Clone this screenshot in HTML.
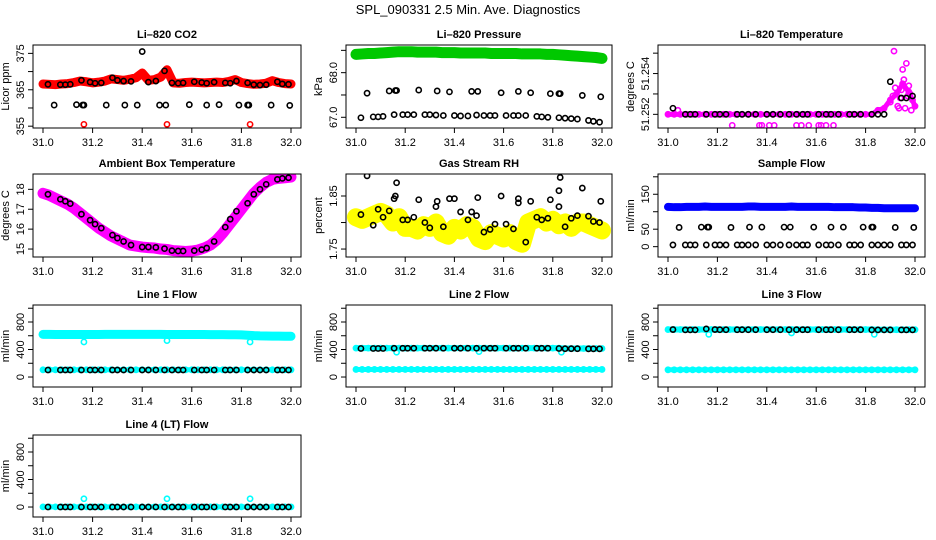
<!DOCTYPE html>
<html><head><meta charset="utf-8"><style>
body{margin:0;background:#fff}
svg{display:block}
text{font-family:"Liberation Sans",Arial,sans-serif;fill:#000}
</style></head><body>
<svg id="c" width="936" height="540" viewBox="0 0 936 540">
<text x="468" y="14" text-anchor="middle" font-size="13">SPL_090331  2.5 Min. Ave. Diagnostics</text>
</svg>
<script>
// shared time arrays
const t41=[31.000,31.025,31.050,31.075,31.100,31.125,31.150,31.175,31.200,31.225,31.250,31.275,31.300,31.325,31.350,31.375,31.400,31.425,31.450,31.475,31.500,31.525,31.550,31.575,31.600,31.625,31.650,31.675,31.700,31.725,31.750,31.775,31.800,31.825,31.850,31.875,31.900,31.925,31.950,31.975,32.000];
const tDense=[31.02,31.07,31.09,31.11,31.155,31.19,31.21,31.235,31.28,31.3,31.325,31.355,31.4,31.425,31.455,31.49,31.52,31.545,31.565,31.61,31.64,31.66,31.69,31.735,31.755,31.78,31.825,31.85,31.875,31.9,31.945,31.965,31.99];
const tSparse=[31.045,31.135,31.16,31.165,31.255,31.33,31.38,31.47,31.495,31.59,31.66,31.71,31.79,31.825,31.83,31.92,31.995];
const tDip=[31.165,31.5,31.835];
const xTicks=[31.0,31.2,31.4,31.6,31.8,32.0];
const xTickLabels=["31.0","31.2","31.4","31.6","31.8","32.0"];
// CO2
const co2Red=[366.6,366.5,366.4,366.6,366.7,367.0,367.4,367.2,366.9,367.1,367.4,368.0,367.8,367.6,367.9,368.3,369.6,367.6,367.8,368.5,370.5,366.9,366.8,367.0,367.1,367.0,366.9,367.0,367.1,367.0,367.3,367.8,367.0,366.7,366.5,366.6,366.8,367.5,367.0,366.7,366.6];
const co2RedOut=[355.5,355.5,355.5];
const co2Black=[366.5,366.4,366.4,366.5,367.6,367.1,366.8,366.9,368.3,367.6,367.4,367.3,375.5,367.1,367.4,370.2,366.9,366.8,366.9,367.2,367.0,366.8,367.1,366.9,366.8,367.4,366.9,366.4,366.3,366.4,367.2,366.6,366.5];
const co2BlackLow=[360.8,360.9,360.8,360.8,360.8,360.8,360.8,360.8,360.8,360.9,360.8,360.9,360.8,360.8,360.8,360.8,360.7];
// Pressure
const presGreen=[68.41,68.42,68.43,68.43,68.44,68.45,68.46,68.47,68.47,68.47,68.46,68.46,68.46,68.46,68.45,68.45,68.45,68.44,68.44,68.44,68.44,68.44,68.43,68.43,68.43,68.43,68.43,68.42,68.42,68.42,68.42,68.41,68.41,68.40,68.39,68.38,68.37,68.36,68.35,68.34,68.32];
const presBlackHi=[67.54,67.59,67.60,67.60,67.61,67.59,67.57,67.58,67.58,67.55,67.58,67.55,67.53,67.53,67.53,67.49,67.46];
const presBlackLo=[66.99,67.01,67.01,67.02,67.06,67.06,67.06,67.06,67.06,67.06,67.05,67.04,67.04,67.03,67.03,67.05,67.04,67.04,67.04,67.04,67.04,67.04,67.04,67.02,67.01,67.00,66.99,66.98,66.97,66.96,66.93,66.91,66.89];
// Li-820 temperature
const tempMag=[51.2520,51.2520,51.2520,51.2520,51.2520,51.2520,51.2520,51.2520,51.2520,51.2520,51.2520,51.2520,51.2520,51.2520,51.2520,51.2520,51.2520,51.2520,51.2520,51.2520,51.2520,51.2520,51.2520,51.2520,51.2520,51.2520,51.2520,51.2520,51.2520,51.2520,51.2520,51.2520,51.2520,51.2520,51.2522,51.2523,51.2527,51.2530,51.2535,51.2531,51.2524];
const tempMagLowT=[31.26,31.37,31.38,31.41,31.43,31.52,31.54,31.57,31.61,31.62,31.64,31.67];
const tempMagLow=[51.25146,51.25146,51.25146,51.25146,51.25146,51.25146,51.25146,51.25146,51.25146,51.25146,51.25146,51.25146];
const tempScatT=[31.915,31.965,31.95,31.955,31.92,31.98,31.985,31.94,31.97,31.93,31.9,31.96,31.04,31.99,31.945,31.975,31.91,31.935];
const tempScat=[51.2551,51.2545,51.2542,51.2537,51.2533,51.2530,51.2522,51.2528,51.2529,51.2524,51.2526,51.2523,51.2522,51.2527,51.2532,51.2534,51.2529,51.2523];
const tempBlack=[51.2523,51.2520,51.2520,51.2520,51.2520,51.2520,51.2520,51.2520,51.2520,51.2520,51.2520,51.2520,51.2520,51.2520,51.2520,51.2520,51.2520,51.2520,51.2520,51.2520,51.2520,51.2520,51.2520,51.2520,51.2520,51.2520,51.2520,51.2520,51.2520,51.2536,51.2528,51.2528,51.2529];
// Ambient
const ambMag=[17.8,17.7,17.55,17.4,17.25,17.05,16.8,16.55,16.3,16.05,15.85,15.65,15.5,15.35,15.2,15.15,15.1,15.07,15.05,15.0,14.98,14.92,14.9,14.88,14.9,14.95,15.05,15.2,15.45,15.8,16.2,16.6,17.0,17.4,17.8,18.1,18.35,18.5,18.55,18.58,18.62];
const ambBlack=[17.75,17.5,17.4,17.28,16.75,16.45,16.25,16.05,15.7,15.55,15.38,15.2,15.1,15.1,15.08,15.02,14.92,14.9,14.9,14.92,14.97,15.05,15.38,16.1,16.5,16.9,17.3,17.75,18.0,18.25,18.5,18.55,18.58];
// RH
const rhYellow=[1.81,1.805,1.81,1.815,1.82,1.815,1.80,1.81,1.79,1.79,1.785,1.795,1.79,1.80,1.78,1.775,1.79,1.785,1.795,1.79,1.77,1.765,1.78,1.775,1.77,1.78,1.765,1.76,1.80,1.805,1.81,1.80,1.805,1.795,1.80,1.79,1.80,1.80,1.795,1.79,1.785];
const rhBlackDense=[1.815,1.795,1.825,1.81,1.845,1.805,1.805,1.81,1.80,1.79,1.83,1.792,1.845,1.82,1.805,1.813,1.782,1.787,1.797,1.797,1.788,1.845,1.763,1.81,1.805,1.808,1.830,1.792,1.808,1.813,1.812,1.802,1.80];
const rhBlackSparse=[1.888,1.822,1.850,1.875,1.843,1.840,1.845,1.820,1.847,1.850,1.837,1.840,1.843,1.860,1.885,1.865,1.840];
// Sample flow
const sfBlue=[114,113,113,114,114,114,115,114,114,114,114,114,114,115,115,114,114,114,114,114,115,114,114,114,114,114,114,113,113,113,113,112,112,111,111,110,110,110,110,110,110];
const sfBlackLo=[5,5,5,5,5,5,5,5,5,5,5,5,5,5,5,5,5,5,5,5,5,5,5,5,5,5,5,5,5,5,5,5,5];
const sfBlackHi=[55,56,56,56,55,56,56,56,56,56,56,56,56,56,56,55,55];
// Line flows
const l1Cyan=[620,620,619,618,618,618,618,619,619,619,620,620,620,620,620,620,620,620,620,620,619,619,619,619,618,618,618,617,617,616,615,614,612,608,602,598,596,595,594,593,592];
const l1CyanLo=[105,105,105,105,105,105,105,105,105,105,105,105,105,105,105,105,105,105,105,105,105,105,105,105,105,105,105,105,105,105,105,105,105,105,105,105,105,105,105,105,105];
const l1Dip=[510,530,510];
const l1Black=[102,102,102,102,102,102,102,102,102,102,102,102,102,102,102,102,102,102,102,102,102,102,102,102,102,102,102,102,102,102,102,102,102];
const l2CyanHi=[420,420,420,420,420,420,420,420,420,420,420,420,420,420,420,420,420,420,420,420,420,420,420,420,420,420,420,420,420,420,420,420,420,420,415,415,415,415,415,415,415];
const l2CyanLo=[110,110,110,110,110,110,110,110,110,110,110,110,110,110,110,110,110,110,110,110,110,110,110,110,110,110,110,110,110,110,110,110,110,110,110,110,110,110,110,110,110];
const l2Dip=[360,370,360];
const l2Black=[415,415,415,415,418,418,418,418,418,418,418,418,418,418,418,418,418,418,418,418,418,418,418,418,418,418,415,412,412,412,410,410,410];
const l3CyanHi=[690,690,690,690,690,690,690,690,690,690,690,690,690,690,690,690,690,690,690,690,690,690,690,690,690,690,690,690,690,690,690,690,690,690,688,688,688,688,688,688,688];
const l3CyanLo=[105,105,105,105,105,105,105,105,105,105,105,105,105,105,105,105,105,105,105,105,105,105,105,105,105,105,105,105,105,105,105,105,105,105,105,105,105,105,105,105,105];
const l3Dip=[620,640,620];
const l3Black=[690,685,685,685,700,690,688,688,688,688,688,688,688,688,688,688,688,688,688,688,688,688,688,688,688,688,685,685,685,685,685,685,685];
const l4Cyan=[2,2,2,2,2,2,2,2,2,2,2,2,2,2,2,2,2,2,2,2,2,2,2,2,2,2,2,2,2,2,2,2,2,2,2,2,2,2,2,2,2];
const l4Out=[120,120,120];
const l4Black=[0,0,0,0,0,0,0,0,0,0,0,0,0,0,0,0,0,0,0,0,0,0,0,0,0,0,0,0,0,0,0,0,0];

const svg=document.getElementById('c');
const NS='http://www.w3.org/2000/svg';
const colL=[33,346,658], colR=[301,612,925];
const rowT=[45,174,305,435], rowB=[128,257,387,517];
function mk(tag,attrs,parent){const e=document.createElementNS(NS,tag);for(const k in attrs)e.setAttribute(k,attrs[k]);(parent||svg).appendChild(e);return e;}

function panel(col,row,name,title,ylab,ylim,yt,ytl,series){
  const L=colL[col],R=colR[col],T=rowT[row],B=rowB[row];
  const g=mk('g',{});
  
  
  const xs=v=>L+10+(v-31)*(R-L-20);
  const ys=v=>B-(v-ylim[0])/(ylim[1]-ylim[0])*(B-T);
  const tt=mk('text',{x:(L+R)/2,y:T-7,'text-anchor':'middle','font-size':'11','font-weight':'bold'},g);
  tt.textContent=title;
  
  
  const cl=mk('clipPath',{id:'cp'+name},g);
  mk('rect',{x:L,y:T,width:R-L,height:B-T},cl);
  const sg=mk('g',{'clip-path':'url(#cp'+name+')'},g);
  series.forEach(s=>{
    const ser=mk('g',{},sg);
    
    
    if(s.band){
      mk('polyline',{points:s.t.map((t,i)=>xs(t)+','+ys(s.v[i])).join(' '),fill:'none',stroke:s.c,'stroke-width':s.band,'stroke-linejoin':'round','stroke-linecap':'round'},ser);
    }
    s.t.forEach((t,i)=>{
      const p=mk('circle',{cx:xs(t),cy:ys(s.v[i]),r:2.6,fill:'none',stroke:s.c,'stroke-width':1.6},ser);
      
      
    });
  });
  mk('rect',{x:L,y:T,width:R-L,height:B-T,fill:'none',stroke:'#000','stroke-width':1},g);
  const xa=mk('g',{},g);
  
  
  mk('line',{x1:xs(xTicks[0]),x2:xs(xTicks[xTicks.length-1]),y1:B,y2:B,stroke:'#000'},xa);
  xTicks.forEach((v,i)=>{
    mk('line',{x1:xs(v),x2:xs(v),y1:B,y2:B+5,stroke:'#000'},xa);
    const tx=mk('text',{x:xs(v),y:B+18,'text-anchor':'middle','font-size':'11'},xa);
    tx.textContent=xTickLabels[i];
  });
  const ya=mk('g',{},g);
  
  
  yt.forEach((v,i)=>{
    mk('line',{x1:L,x2:L-5,y1:ys(v),y2:ys(v),stroke:'#000'},ya);
    if(ytl[i]){const tx=mk('text',{x:L-9,y:ys(v),'text-anchor':'middle','font-size':'11',transform:'rotate(-90 '+(L-9)+' '+ys(v)+')'},ya);tx.textContent=ytl[i];}
  });
  const yl=mk('text',{x:L-24,y:(T+B)/2,'text-anchor':'middle','font-size':'11',transform:'rotate(-90 '+(L-24)+' '+((T+B)/2)+')'},g);
  yl.textContent=ylab;
  
  
}
const flowLim=[-145,1047], flowT=[0,200,400,600,800,1000], flowTL=["0","","400","","800",""];
panel(0,0,'co2','Li\u2013820 CO2','Licor ppm',[354.5,377.3],[355,360,365,370,375],["355","","365","","375"],[
 {n:'red',t:t41,v:co2Red,c:'#ff0000',band:9},{n:'red-outliers',t:tDip,v:co2RedOut,c:'#ff0000'},
 {n:'black',t:tDense,v:co2Black,c:'#000'},{n:'black-low',t:tSparse,v:co2BlackLow,c:'#000'}]);
panel(1,0,'pressure','Li\u2013820 Pressure','kPa',[66.76,68.62],[67,67.5,68,68.5],["67.0","","68.0",""],[
 {n:'green',t:t41,v:presGreen,c:'#00c800',band:11},{n:'black-high',t:tSparse,v:presBlackHi,c:'#000'},{n:'black-low',t:tDense,v:presBlackLo,c:'#000'}]);
panel(2,0,'li820-temp','Li\u2013820 Temperature','degrees C',[51.25133,51.2554],[51.252,51.253,51.254,51.255],["51.252","","51.254",""],[
 {n:'magenta',t:t41,v:tempMag,c:'#ff00ff',band:5},{n:'magenta-low',t:tempMagLowT,v:tempMagLow,c:'#ff00ff'},{n:'magenta-scatter',t:tempScatT,v:tempScat,c:'#ff00ff'},{n:'black',t:tDense,v:tempBlack,c:'#000'}]);
panel(0,1,'ambient','Ambient Box Temperature','degrees C',[14.6,18.77],[15,16,17,18],["15","16","17","18"],[
 {n:'magenta',t:t41,v:ambMag,c:'#ff00ff',band:11},{n:'black',t:tDense,v:ambBlack,c:'#000'}]);
panel(1,1,'rh','Gas Stream RH','percent',[1.735,1.8915],[1.75,1.80,1.85],["1.75","","1.85"],[
 {n:'yellow',t:t41,v:rhYellow,c:'#ffff00',band:18},{n:'black-dense',t:tDense,v:rhBlackDense,c:'#000'},{n:'black-sparse',t:tSparse,v:rhBlackSparse,c:'#000'}]);
panel(2,1,'sample-flow','Sample Flow','ml/min',[-29.6,208],[0,50,100,150,200],["0","50","","150",""],[
 {n:'blue',t:t41,v:sfBlue,c:'#0000ff',band:8},{n:'black-low',t:tDense,v:sfBlackLo,c:'#000'},{n:'black-high',t:tSparse,v:sfBlackHi,c:'#000'}]);
panel(0,2,'line1','Line 1 Flow','ml/min',flowLim,flowT,flowTL,[
 {n:'cyan',t:t41,v:l1Cyan,c:'#00ffff',band:9},{n:'cyan-low',t:t41,v:l1CyanLo,c:'#00ffff',band:5},{n:'cyan-dips',t:tDip,v:l1Dip,c:'#00ffff'},{n:'black',t:tDense,v:l1Black,c:'#000'}]);
panel(1,2,'line2','Line 2 Flow','ml/min',flowLim,flowT,flowTL,[
 {n:'cyan-high',t:t41,v:l2CyanHi,c:'#00ffff',band:6},{n:'cyan-low',t:t41,v:l2CyanLo,c:'#00ffff',band:5},{n:'cyan-dips',t:tDip,v:l2Dip,c:'#00ffff'},{n:'black',t:tDense,v:l2Black,c:'#000'}]);
panel(2,2,'line3','Line 3 Flow','ml/min',flowLim,flowT,flowTL,[
 {n:'cyan-high',t:t41,v:l3CyanHi,c:'#00ffff',band:6},{n:'cyan-low',t:t41,v:l3CyanLo,c:'#00ffff',band:5},{n:'cyan-dips',t:tDip,v:l3Dip,c:'#00ffff'},{n:'black',t:tDense,v:l3Black,c:'#000'}]);
panel(0,3,'line4','Line 4 (LT) Flow','ml/min',flowLim,flowT,flowTL,[
 {n:'cyan',t:t41,v:l4Cyan,c:'#00ffff',band:5},{n:'cyan-outliers',t:tDip,v:l4Out,c:'#00ffff'},{n:'black',t:tDense,v:l4Black,c:'#000'}]);
</script>
</body></html>
